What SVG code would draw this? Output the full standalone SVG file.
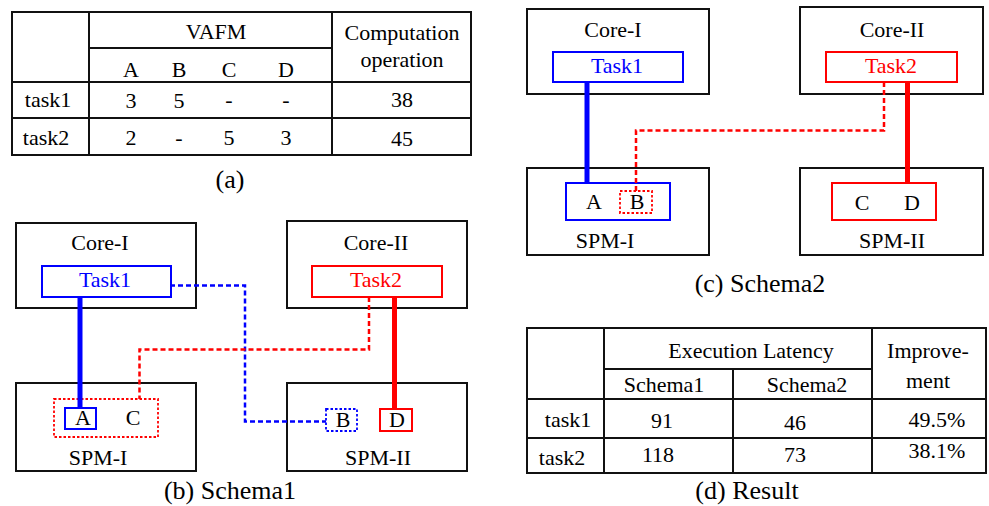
<svg xmlns="http://www.w3.org/2000/svg" width="989" height="506" viewBox="0 0 989 506">
<style>
text{font-family:"Liberation Serif","Times New Roman",serif;font-size:22px;fill:#000;text-anchor:middle}
.cap{font-size:26px}
.tb{fill:none;stroke:#111;stroke-width:2}
.tl{stroke:#111;stroke-width:2}
.box{fill:#fff;stroke:#111;stroke-width:2}
.bt{fill:none;stroke:#00f;stroke-width:2}
.rt{fill:none;stroke:#f00;stroke-width:2}
.bdot{fill:none;stroke:#00f;stroke-width:1.8;stroke-dasharray:2.5 2}
.rdot{fill:none;stroke:#f00;stroke-width:1.8;stroke-dasharray:2.5 2}
.bthick{stroke:#00f;stroke-width:5;fill:none}
.rthick{stroke:#f00;stroke-width:5;fill:none}
.bdash{stroke:#00f;stroke-width:2.5;fill:none;stroke-dasharray:5 3}
.rdash{stroke:#f00;stroke-width:2.5;fill:none;stroke-dasharray:5 3}
.blue{fill:#00f}
.red{fill:#f00}
</style>

<!-- (a) table -->
<g id="tableA">
<rect class="tb" x="12" y="12" width="459" height="143"/>
<line class="tl" x1="89" y1="12" x2="89" y2="155"/>
<line class="tl" x1="332" y1="12" x2="332" y2="155"/>
<line class="tl" x1="89" y1="48" x2="332" y2="48"/>
<line class="tl" x1="12" y1="82" x2="471" y2="82"/>
<line class="tl" x1="12" y1="118" x2="471" y2="118"/>
<text x="216" y="39">VAFM</text>
<text x="402" y="40">Computation</text>
<text x="402" y="67">operation</text>
<text x="131" y="77">A</text>
<text x="179" y="77">B</text>
<text x="229" y="77">C</text>
<text x="286" y="77">D</text>
<text x="48" y="107">task1</text>
<text x="131" y="108">3</text>
<text x="179" y="108">5</text>
<text x="229" y="107">-</text>
<text x="286" y="107">-</text>
<text x="402" y="107">38</text>
<text x="46" y="145">task2</text>
<text x="131" y="145">2</text>
<text x="179" y="145">-</text>
<text x="229" y="145">5</text>
<text x="286" y="145">3</text>
<text x="402" y="146">45</text>
<text class="cap" x="230" y="188">(a)</text>
</g>

<!-- (b) Schema1 -->
<g id="b-core1"><rect class="box" x="16" y="223" width="180" height="85"/><text x="100" y="250">Core-I</text></g>
<g id="b-core2"><rect class="box" x="287" y="221" width="180" height="87"/><text x="376" y="250">Core-II</text></g>
<g id="b-spm1"><rect class="box" x="16" y="383" width="180" height="88"/><text x="98" y="465">SPM-I</text></g>
<g id="b-spm2"><rect class="box" x="287" y="383" width="180" height="88"/><text x="378" y="465">SPM-II</text></g>
<g id="b-task1"><rect class="bt" x="42" y="266" width="129" height="31"/><text class="blue" x="105" y="287">Task1</text></g>
<g id="b-task2"><rect class="rt" x="312" y="266" width="130" height="31"/><text class="red" x="376" y="287">Task2</text></g>
<g id="b-AC"><rect class="rdot" x="54" y="399" width="104" height="38"/></g>
<g id="b-A"><rect class="bt" x="65" y="408" width="31" height="21"/><text x="83" y="425">A</text></g>
<g id="b-C"><text x="133" y="425">C</text></g>
<g id="b-B"><rect class="bdot" x="326" y="409" width="31" height="22"/><text x="343" y="427">B</text></g>
<g id="b-D"><rect class="rt" x="380" y="409" width="32" height="22"/><text x="397" y="427">D</text></g>
<g id="b-connectors">
<line class="bthick" x1="80" y1="297" x2="80" y2="408"/>
<line class="rthick" x1="394.5" y1="297" x2="394.5" y2="409"/>
<polyline class="bdash" points="170,285.5 245,285.5 245,421.5 326,421.5"/>
<polyline class="rdash" points="369,297 369,349.5 139.5,349.5 139.5,399"/>
</g>
<text class="cap" x="230" y="499">(b) Schema1</text>

<!-- (c) Schema2 -->
<g id="c-core1"><rect class="box" x="527" y="9" width="182" height="85"/><text x="613" y="37">Core-I</text></g>
<g id="c-core2"><rect class="box" x="800" y="7" width="183" height="87"/><text x="892" y="37">Core-II</text></g>
<g id="c-spm1"><rect class="box" x="527" y="168" width="182" height="87"/><text x="605" y="248">SPM-I</text></g>
<g id="c-spm2"><rect class="box" x="800" y="168" width="183" height="87"/><text x="892" y="248">SPM-II</text></g>
<g id="c-task1"><rect class="bt" x="553" y="52" width="130" height="30"/><text class="blue" x="617" y="73">Task1</text></g>
<g id="c-task2"><rect class="rt" x="826" y="52" width="131" height="30"/><text class="red" x="891" y="73">Task2</text></g>
<g id="c-AB"><rect class="bt" x="566" y="183" width="104" height="37"/><text x="594" y="209">A</text></g>
<g id="c-B"><rect class="rdot" x="620" y="191" width="32" height="22"/><text x="637" y="209">B</text></g>
<g id="c-CD"><rect class="rt" x="832" y="183" width="104" height="37"/><text x="862" y="210">C</text><text x="912" y="210">D</text></g>
<g id="c-connectors">
<line class="bthick" x1="587" y1="82" x2="587" y2="183"/>
<line class="rthick" x1="907.5" y1="82" x2="907.5" y2="183"/>
<polyline class="rdash" points="884,82 884,130.5 636,130.5 636,191"/>
</g>
<text class="cap" x="760" y="292">(c) Schema2</text>

<!-- (d) table -->
<g id="tableD">
<rect class="tb" x="527" y="328" width="459" height="145"/>
<line class="tl" x1="604" y1="328" x2="604" y2="473"/>
<line class="tl" x1="872" y1="328" x2="872" y2="473"/>
<line class="tl" x1="733" y1="369" x2="733" y2="473"/>
<line class="tl" x1="604" y1="369" x2="872" y2="369"/>
<line class="tl" x1="527" y1="399" x2="986" y2="399"/>
<line class="tl" x1="527" y1="438" x2="986" y2="438"/>
<text x="751" y="358">Execution Latency</text>
<text x="928" y="358">Improve-</text>
<text x="928" y="388">ment</text>
<text x="664" y="392">Schema1</text>
<text x="807" y="392">Schema2</text>
<text x="568" y="427">task1</text>
<text x="662" y="428">91</text>
<text x="795" y="430">46</text>
<text x="937" y="427">49.5%</text>
<text x="562" y="465">task2</text>
<text x="658" y="462">118</text>
<text x="795" y="462">73</text>
<text x="937" y="458">38.1%</text>
<text class="cap" x="747" y="499">(d) Result</text>
</g>
</svg>
